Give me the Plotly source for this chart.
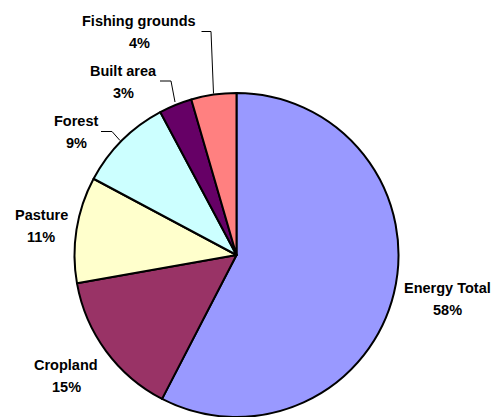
import plotly.graph_objects as go

categories = ["Energy Total", "Cropland", "Pasture", "Forest", "Built area", "Fishing grounds"]
values = [57.6, 14.6, 10.6, 9.4, 3.3, 4.5]
colors = ["#9999FF", "#993366", "#FFFFCC", "#CCFFFF", "#660066", "#FF8080"]

W, H = 496, 417
def px(x):
    return x / W
def py(y):
    return 1 - y / H

# label text centers (pixels) for name line; percent line is 22px below
label_pos = {
    "Energy Total": (447, 288),
    "Cropland": (66, 365),
    "Pasture": (41, 215),
    "Forest": (76, 121),
    "Built area": (123, 71),
    "Fishing grounds": (139, 21),
}
leaders = {
    "Fishing grounds": [(201.5, 31.5), (211, 31.5), (213.5, 93.5)],
    "Built area": [(160, 81), (171, 81), (175, 102)],
    "Forest": [(101, 131.5), (112, 131.5), (120, 140.5)],
}

total = sum(values)
fig = go.Figure(go.Pie(
    labels=categories, values=values, sort=False, direction="clockwise", rotation=0,
    marker=dict(colors=colors, line=dict(color="black", width=2)),
    textinfo="none", hoverinfo="label+percent",
    domain=dict(x=[74 / W, 399 / W], y=[0, 324 / H]),
    showlegend=False,
))

font = dict(family="Liberation Sans, Arial, sans-serif", size=14.5, color="black")
annotations = []
for cat, v in zip(categories, values):
    x, y = label_pos[cat]
    annotations.append(dict(x=px(x), y=py(y), xref="paper", yref="paper", text=f"<b>{cat}</b>",
                            showarrow=False, xanchor="center", yanchor="middle", font=font))
    annotations.append(dict(x=px(x), y=py(y + 22), xref="paper", yref="paper",
                            text=f"<b>{round(v / total * 100)}%</b>",
                            showarrow=False, xanchor="center", yanchor="middle", font=font))

shapes = []
for cat, pts in leaders.items():
    path = "M " + " L ".join(f"{px(a)},{py(b)}" for a, b in pts)
    shapes.append(dict(type="path", path=path, xref="paper", yref="paper",
                       line=dict(color="black", width=1)))

fig.update_layout(width=W, height=H, margin=dict(l=0, r=0, t=0, b=0),
                  paper_bgcolor="white", plot_bgcolor="white",
                  annotations=annotations, shapes=shapes)
fig.write_html("out.html")
